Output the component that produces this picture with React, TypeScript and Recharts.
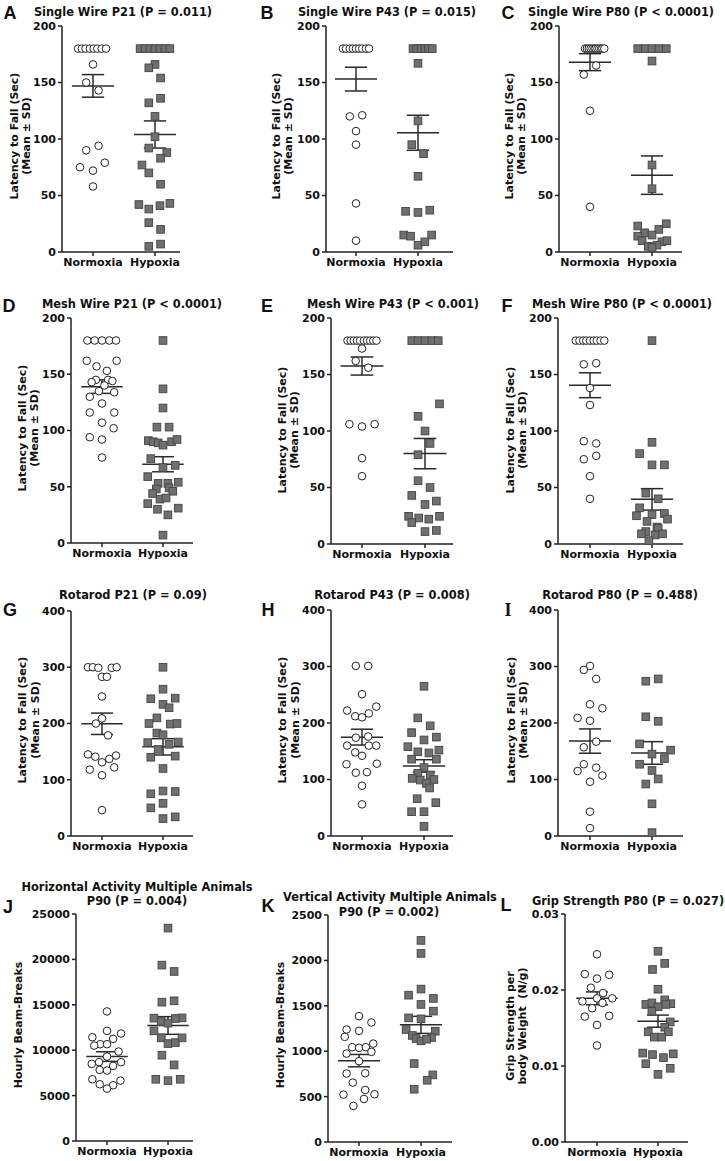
import { ScatterChart, Scatter, XAxis, YAxis, ReferenceLine } from "recharts"

const groups = ["Normoxia", "Hypoxia"]

const ticks200 = [0, 50, 100, 150, 200]
const ticks400 = [0, 100, 200, 300, 400]
const ticksHoriz = [0, 5000, 10000, 15000, 20000, 25000]
const ticksVert = [0, 500, 1000, 1500, 2000, 2500]
const ticksGrip = [0, 0.01, 0.02, 0.03]

// A - single wire P21
const swP21Norm = [180, 180, 180, 180, 180, 180, 180, 180, 166, 150, 143, 94, 90, 79, 75, 72, 58]
const swP21NormJit = [-0.24, -0.18, -0.12, -0.05, 0.01, 0.07, 0.14, 0.21, 0, -0.11, 0.09, 0.09, -0.11, 0.19, -0.21, 0, 0]
const swP21Hyp = [180, 180, 180, 180, 180, 180, 180, 166, 163, 154, 132, 136, 120, 102, 92, 88, 83, 77, 70, 60, 42, 38, 41, 43, 26, 20, 5, 7]
const swP21HypJit = [-0.24, -0.16, -0.08, 0, 0.08, 0.16, 0.24, 0, -0.1, 0.09, -0.1, 0.09, 0, 0, -0.1, 0.19, 0.09, -0.21, -0.1, 0.09, -0.26, -0.1, 0.08, 0.24, -0.1, 0.09, -0.1, 0.09]
const swP21Mean = [147, 104]
const swP21Err = [10, 12]

// B - single wire P43
const swP43Norm = [180, 180, 180, 180, 180, 180, 180, 180, 180, 120, 121, 107, 95, 43, 10]
const swP43NormJit = [-0.21, -0.16, -0.1, -0.05, 0, 0.05, 0.1, 0.16, 0.21, -0.1, 0.1, 0, 0, 0, 0]
const swP43Hyp = [180, 180, 180, 180, 180, 180, 167, 116, 95, 87, 67, 36, 35, 37, 15, 14, 15, 6, 9]
const swP43HypJit = [-0.08, -0.02, 0.05, 0.11, 0.17, 0.23, 0, 0, -0.1, 0.09, 0, -0.2, 0, 0.19, -0.23, -0.12, 0.22, 0, 0.11]
const swP43Mean = [153, 105.5]
const swP43Err = [10.5, 15.5]

// C - single wire P80
const swP80Norm = [180, 180, 180, 180, 180, 180, 180, 180, 180, 180, 180, 180, 165, 157, 125, 40]
const swP80NormJit = [-0.08, -0.05, -0.02, 0.01, 0.04, 0.07, 0.09, 0.12, 0.15, 0.18, 0.2, 0.23, 0.1, -0.1, 0, 0]
const swP80Hyp = [180, 180, 180, 180, 180, 169, 77, 56, 23, 25, 17, 20, 14, 15, 10, 9, 10, 5, 6, 4]
const swP80HypJit = [-0.23, -0.11, 0, 0.11, 0.23, 0, 0, 0, -0.23, 0.23, -0.12, 0.11, -0.23, 0, -0.16, 0.16, 0.24, -0.06, 0.08, 0]
const swP80Mean = [168, 68]
const swP80Err = [7.5, 17]

// D - mesh wire P21
const mwP21Norm = [180, 180, 180, 180, 180, 162, 162, 157, 153, 145, 145, 143, 144, 140, 135, 134, 130, 124, 116, 116, 107, 102, 94, 92, 76]
const mwP21NormJit = [-0.24, -0.12, 0, 0.12, 0.23, -0.25, 0.24, -0.09, 0.08, -0.1, 0.1, -0.17, 0.17, 0.04, -0.05, 0.2, -0.2, 0, -0.2, 0.2, 0, 0.19, -0.2, 0, 0]
const mwP21Hyp = [180, 137, 120, 103, 103, 91, 90, 89, 87, 90, 92, 75, 69, 67, 59, 53, 53, 54, 48, 49, 44, 46, 39, 40, 35, 30, 31, 25, 7]
const mwP21HypJit = [0, 0, 0, -0.1, 0.1, -0.24, -0.16, -0.08, 0, 0.14, 0.23, -0.2, 0.2, 0, -0.25, -0.08, 0.08, 0.25, -0.11, 0.1, -0.17, 0.16, -0.05, 0.05, -0.25, -0.09, 0.25, 0.08, 0]
const mwP21Mean = [139, 70]
const mwP21Err = [6, 6.7]

// E - mesh wire P43
const mwP43Norm = [180, 180, 180, 180, 180, 180, 180, 180, 180, 180, 173, 162, 156, 106, 104, 106, 76, 60]
const mwP43NormJit = [-0.23, -0.18, -0.13, -0.08, -0.03, 0.03, 0.08, 0.13, 0.18, 0.23, 0, -0.1, 0.1, -0.2, 0, 0.2, 0, 0]
const mwP43Hyp = [180, 180, 180, 180, 180, 124, 113, 100, 89, 79, 56, 50, 43, 35, 38, 24.5, 23, 22, 24.5, 19, 11, 12]
const mwP43HypJit = [-0.21, -0.11, 0, 0.11, 0.21, 0.23, -0.11, 0, 0.08, -0.11, -0.11, 0.08, -0.21, 0, 0.18, -0.26, -0.1, 0.06, 0.23, -0.21, 0, 0.18]
const mwP43Mean = [157.5, 80]
const mwP43Err = [8, 13.4]

// F - mesh wire P80
const mwP80Norm = [180, 180, 180, 180, 180, 180, 180, 180, 180, 159, 160, 138, 123, 91, 89, 75, 78, 60, 40]
const mwP80NormJit = [-0.23, -0.17, -0.11, -0.06, 0, 0.06, 0.11, 0.17, 0.23, -0.1, 0.1, 0, 0, -0.1, 0.1, -0.1, 0.1, 0, 0]
const mwP80Hyp = [180, 90, 80, 70, 70, 45, 40, 32, 26, 27, 25, 22, 20, 15, 11, 14, 9, 8, 9, 3]
const mwP80HypJit = [0, 0, -0.2, 0, 0.2, -0.1, 0.1, -0.2, 0, 0.2, -0.25, 0.25, -0.08, 0.08, -0.1, 0.1, -0.17, 0.05, 0.17, -0.05]
const mwP80Mean = [140.5, 39.5]
const mwP80Err = [11, 9.5]

// G - rotarod P21
const rrP21Norm = [300, 300, 299, 299, 300, 283, 283, 248, 209, 200, 179, 145, 141, 143, 137, 131, 118, 122, 108, 46]
const rrP21NormJit = [-0.23, -0.15, -0.06, 0.16, 0.24, 0, 0.08, 0, 0, -0.1, 0.1, -0.23, -0.11, 0.23, 0.12, 0, -0.2, 0.2, 0, 0]
const rrP21Hyp = [300, 261, 244, 245, 234, 228, 210, 200, 199, 200, 183, 180, 166, 167, 163, 154, 140, 142, 120, 75, 80, 79, 50, 58, 31, 34]
const rrP21HypJit = [0, 0, -0.2, 0.2, 0, 0.1, -0.1, -0.23, 0.12, 0.23, -0.1, 0, -0.25, 0.25, 0.1, -0.08, -0.2, 0.2, 0, -0.2, 0, 0.2, -0.2, 0, 0, 0.2]
const rrP21Mean = [199.5, 158.5]
const rrP21Err = [19, 14.5]

// H - rotarod P43
const rrP43Norm = [301, 301, 251, 222, 212, 210, 217, 229, 174, 176, 160, 160, 160, 148, 142, 127, 128, 112, 113, 89, 56]
const rrP43NormJit = [-0.1, 0.1, 0, -0.24, -0.11, 0, 0.11, 0.23, -0.1, 0.1, -0.24, 0.11, 0.23, -0.11, 0, -0.25, 0.24, -0.1, 0.08, 0, 0]
const rrP43Hyp = [265, 209, 195, 183, 175, 170, 158, 149, 147, 152, 136, 136, 121, 111, 108, 102, 99, 100, 93, 85, 66, 59, 43, 43, 17]
const rrP43HypJit = [0, -0.1, 0.1, -0.2, 0.2, 0, -0.26, -0.1, 0.08, 0.24, -0.2, 0.2, 0, -0.1, 0.1, -0.19, -0.06, 0.16, 0.04, 0.09, -0.11, 0.19, -0.2, 0, 0]
const rrP43Mean = [175, 124]
const rrP43Err = [14, 11]

// I - rotarod P80
const rrP80Norm = [301, 294, 278, 233, 226, 209, 204, 167, 157, 127, 121, 115, 107, 96, 43, 14]
const rrP80NormJit = [0, -0.1, 0.1, 0, 0.2, -0.2, 0, 0.1, -0.1, -0.1, 0.1, -0.2, 0.2, 0, 0, 0]
const rrP80Hyp = [274, 278, 211, 203, 163, 145, 152, 137, 127, 116, 101, 92, 57, 6]
const rrP80HypJit = [-0.1, 0.1, -0.1, 0.1, -0.2, 0, 0.3, 0.2, -0.2, 0, 0.1, -0.1, 0, 0]
const rrP80Mean = [168, 147]
const rrP80Err = [21.5, 20]

// J - horizontal activity P90
const horizNorm = [14270, 12130, 11430, 11840, 11250, 10660, 10660, 10510, 9850, 9300, 8490, 8680, 8270, 8680, 7830, 7760, 6800, 6650, 6250, 6140, 5770]
const horizNormJit = [0, 0, -0.24, 0.23, 0.1, -0.11, 0, -0.21, 0.19, 0, -0.25, -0.13, 0.1, 0.23, -0.12, 0, -0.24, 0.22, -0.12, 0.1, 0]
const horizHyp = [23450, 19370, 18670, 15290, 15440, 13530, 13560, 13490, 13160, 12980, 12130, 11360, 10730, 10840, 11360, 9450, 8380, 6800, 6650, 6800]
const horizHypJit = [0, -0.1, 0.1, -0.1, 0.1, -0.23, 0.23, 0.12, -0.11, 0, -0.23, -0.11, 0, 0.12, 0.23, -0.1, 0.1, -0.2, 0, 0.2]
const horizMean = [9300, 12720]
const horizErr = [530, 975]

// K - vertical activity P90
const vertNorm = [1386, 1316, 1239, 1224, 1158, 1084, 1044, 1037, 1044, 974, 993, 890, 754, 757, 654, 573, 522, 526, 474, 397]
const vertNormJit = [0, 0.2, -0.2, 0, -0.23, 0.23, -0.11, 0, 0.11, -0.2, 0.2, 0, -0.2, 0.1, -0.1, 0.1, -0.25, 0.25, 0.08, -0.09]
const vertHyp = [2220, 2077, 1684, 1617, 1581, 1515, 1441, 1367, 1356, 1239, 1220, 1173, 1140, 1150, 1114, 1132, 864, 739, 680, 581]
const vertHypJit = [0, 0, 0, -0.2, 0.2, 0, 0.2, -0.2, 0, -0.24, 0.23, -0.14, -0.08, 0.17, 0, 0.09, -0.11, 0.19, 0.1, -0.11]
const vertMean = [896, 1290]
const vertErr = [68, 94]

// L - grip strength P80
const gripNorm = [0.0247, 0.0221, 0.0215, 0.022, 0.0203, 0.0196, 0.0185, 0.0189, 0.0189, 0.0183, 0.0176, 0.0165, 0.0166, 0.0154, 0.0127]
const gripNormJit = [0, -0.2, 0, 0.2, -0.1, 0.1, -0.24, 0, 0.25, 0.09, -0.08, -0.2, 0.2, 0, 0]
const gripHyp = [0.0251, 0.0235, 0.0227, 0.0201, 0.0187, 0.0181, 0.0183, 0.0182, 0.0178, 0.0181, 0.0172, 0.0158, 0.0151, 0.0145, 0.0145, 0.0138, 0.0138, 0.0117, 0.0115, 0.0111, 0.0116, 0.0103, 0.0097, 0.0089]
const gripHypJit = [0, 0.11, -0.09, 0, 0.11, -0.2, -0.1, 0.21, 0, 0.13, -0.1, 0.2, 0.11, -0.16, 0.17, -0.06, 0.06, -0.25, -0.09, 0.09, 0.25, -0.2, 0.2, 0]
const gripMean = [0.0189, 0.0159]
const gripErr = [0.00085, 0.0008]

const latency = ["Latency to Fall (Sec)", "(Mean ± SD)"]
const beams = ["Hourly Beam-Breaks"]
const FONT = "'DejaVu Sans', Verdana, sans-serif"

type Box = { ax: number; top: number; bottom: number; xEnd: number; nx: number; hx: number }

interface PanelDef {
  letter: string
  title: string[]
  titleAt: number[][]
  letterAt: number[]
  yLabel: string[]
  labelX: number[]
  labelY: number
  ticks: number[]
  norm: number[]
  normJit: number[]
  hyp: number[]
  hypJit: number[]
  means: number[]
  errs: number[]
  box: Box
}

const panels: PanelDef[] = [
  { letter: "A", title: ["Single Wire P21 (P = 0.011)"], titleAt: [[123, 13]], letterAt: [10, 13], yLabel: latency, labelX: [13.5, 25.5], labelY: 136, ticks: ticks200, norm: swP21Norm, normJit: swP21NormJit, hyp: swP21Hyp, hypJit: swP21HypJit, means: swP21Mean, errs: swP21Err, box: { ax: 62, top: 26, bottom: 252, xEnd: 180, nx: 93, hx: 155 } },
  { letter: "B", title: ["Single Wire P43 (P = 0.015)"], titleAt: [[387, 13]], letterAt: [267, 13], yLabel: latency, labelX: [276, 288], labelY: 136, ticks: ticks200, norm: swP43Norm, normJit: swP43NormJit, hyp: swP43Hyp, hypJit: swP43HypJit, means: swP43Mean, errs: swP43Err, box: { ax: 326, top: 26, bottom: 252, xEnd: 453, nx: 356, hx: 418 } },
  { letter: "C", title: ["Single Wire P80 (P < 0.0001)"], titleAt: [[621, 13]], letterAt: [508, 13], yLabel: latency, labelX: [509, 521], labelY: 136, ticks: ticks200, norm: swP80Norm, normJit: swP80NormJit, hyp: swP80Hyp, hypJit: swP80HypJit, means: swP80Mean, errs: swP80Err, box: { ax: 559, top: 26, bottom: 252, xEnd: 682, nx: 590, hx: 652 } },
  { letter: "D", title: ["Mesh Wire P21 (P < 0.0001)"], titleAt: [[132, 305]], letterAt: [9, 306], yLabel: latency, labelX: [22, 34], labelY: 428, ticks: ticks200, norm: mwP21Norm, normJit: mwP21NormJit, hyp: mwP21Hyp, hypJit: mwP21HypJit, means: mwP21Mean, errs: mwP21Err, box: { ax: 71, top: 318, bottom: 543, xEnd: 193, nx: 102, hx: 163 } },
  { letter: "E", title: ["Mesh Wire P43 (P < 0.001)"], titleAt: [[393, 305]], letterAt: [267, 306], yLabel: latency, labelX: [282, 294], labelY: 430, ticks: ticks200, norm: mwP43Norm, normJit: mwP43NormJit, hyp: mwP43Hyp, hypJit: mwP43HypJit, means: mwP43Mean, errs: mwP43Err, box: { ax: 331, top: 318, bottom: 544, xEnd: 453, nx: 362, hx: 425 } },
  { letter: "F", title: ["Mesh Wire P80 (P < 0.0001)"], titleAt: [[622, 305]], letterAt: [507, 306], yLabel: latency, labelX: [510, 522], labelY: 430, ticks: ticks200, norm: mwP80Norm, normJit: mwP80NormJit, hyp: mwP80Hyp, hypJit: mwP80HypJit, means: mwP80Mean, errs: mwP80Err, box: { ax: 558, top: 318, bottom: 544, xEnd: 683, nx: 590, hx: 652 } },
  { letter: "G", title: ["Rotarod P21 (P = 0.09)"], titleAt: [[133, 596]], letterAt: [10, 610], yLabel: latency, labelX: [22, 35], labelY: 720, ticks: ticks400, norm: rrP21Norm, normJit: rrP21NormJit, hyp: rrP21Hyp, hypJit: rrP21HypJit, means: rrP21Mean, errs: rrP21Err, box: { ax: 71, top: 611, bottom: 836, xEnd: 193, nx: 102, hx: 163 } },
  { letter: "H", title: ["Rotarod P43 (P = 0.008)"], titleAt: [[392, 596]], letterAt: [268, 610], yLabel: latency, labelX: [282, 295], labelY: 720, ticks: ticks400, norm: rrP43Norm, normJit: rrP43NormJit, hyp: rrP43Hyp, hypJit: rrP43HypJit, means: rrP43Mean, errs: rrP43Err, box: { ax: 331, top: 610, bottom: 836, xEnd: 453, nx: 362, hx: 424 } },
  { letter: "I", title: ["Rotarod P80 (P = 0.488)"], titleAt: [[620, 596]], letterAt: [508, 610], yLabel: latency, labelX: [511, 523], labelY: 720, ticks: ticks400, norm: rrP80Norm, normJit: rrP80NormJit, hyp: rrP80Hyp, hypJit: rrP80HypJit, means: rrP80Mean, errs: rrP80Err, box: { ax: 558, top: 610, bottom: 836, xEnd: 683, nx: 590, hx: 652 } },
  { letter: "J", title: ["Horizontal Activity Multiple Animals", "P90 (P = 0.004)"], titleAt: [[137, 888], [137, 902]], letterAt: [8, 907], yLabel: beams, labelX: [18], labelY: 1025, ticks: ticksHoriz, norm: horizNorm, normJit: horizNormJit, hyp: horizHyp, hypJit: horizHypJit, means: horizMean, errs: horizErr, box: { ax: 76, top: 914, bottom: 1141, xEnd: 193, nx: 107, hx: 168 } },
  { letter: "K", title: ["Vertical Activity Multiple Animals", "P90 (P = 0.002)"], titleAt: [[390, 898], [389, 913]], letterAt: [268, 906], yLabel: beams, labelX: [280], labelY: 1025, ticks: ticksVert, norm: vertNorm, normJit: vertNormJit, hyp: vertHyp, hypJit: vertHypJit, means: vertMean, errs: vertErr, box: { ax: 328, top: 915, bottom: 1142, xEnd: 452, nx: 359, hx: 421 } },
  { letter: "L", title: ["Grip Strength P80 (P = 0.027)"], titleAt: [[628, 902]], letterAt: [506, 905], yLabel: ["Grip Strength per", "body Weight  (N/g)"], labelX: [510, 522], labelY: 1026, ticks: ticksGrip, norm: gripNorm, normJit: gripNormJit, hyp: gripHyp, hypJit: gripHypJit, means: gripMean, errs: gripErr, box: { ax: 565, top: 914, bottom: 1142, xEnd: 688, nx: 597, hx: 658 } },
]

const tickStyle = { fill: "#111", fontSize: 11, fontWeight: 700, fontFamily: FONT }

function OpenCircle(p: any) {
  return <circle cx={p.cx} cy={p.cy} r={3.8} fill="#fff" stroke="#222" strokeWidth={1} />
}

function GraySquare(p: any) {
  return <rect x={p.cx - 3.8} y={p.cy - 3.8} width={7.6} height={7.6} fill="#707070" stroke="#4a4a4a" strokeWidth={1} />
}

function Panel({ d }: { d: PanelDef }) {
  const { ax, top, bottom, xEnd, nx, hx } = d.box
  const unit = hx - nx
  const domain = [1 - (nx - ax) / unit, 2 + (xEnd - hx) / unit]
  const yMax = d.ticks[d.ticks.length - 1]
  const normData = d.norm.map((y, i) => ({ x: 1 + d.normJit[i], y }))
  const hypData = d.hyp.map((y, i) => ({ x: 2 + d.hypJit[i], y }))
  const fmt = yMax < 1 ? (v: number) => v.toFixed(2) : (v: number) => String(v)
  const line = { stroke: "#2a2a2a", strokeWidth: 1.5, ifOverflow: "visible" as const }

  return (
    <>
      <div style={{ position: "absolute", left: ax - 60, top: top - 10 }}>
        <ScatterChart width={xEnd - ax + 68} height={bottom - top + 40} margin={{ top: 10, right: 8, bottom: 0, left: 0 }}>
          <XAxis
            type="number"
            dataKey="x"
            domain={domain}
            ticks={[1, 2]}
            interval={0}
            allowDataOverflow
            height={30}
            tickSize={4}
            tickFormatter={(v: number) => groups[v - 1]}
            tick={tickStyle}
            axisLine={{ stroke: "#222", strokeWidth: 1.5 }}
            tickLine={{ stroke: "#222", strokeWidth: 1.5 }}
          />
          <YAxis
            type="number"
            dataKey="y"
            domain={[0, yMax]}
            ticks={d.ticks}
            interval={0}
            width={60}
            tickSize={4}
            tickFormatter={fmt}
            tick={tickStyle}
            axisLine={{ stroke: "#222", strokeWidth: 1.5 }}
            tickLine={{ stroke: "#222", strokeWidth: 1.5 }}
          />
          <Scatter data={normData} shape={OpenCircle} isAnimationActive={false} />
          <Scatter data={hypData} shape={GraySquare} isAnimationActive={false} />
          {d.means.map((m, g) => {
            const c = g + 1
            const e = d.errs[g]
            return [
              <ReferenceLine key={`m${g}`} segment={[{ x: c - 0.34, y: m }, { x: c + 0.34, y: m }]} {...line} />,
              <ReferenceLine key={`v${g}`} segment={[{ x: c, y: m - e }, { x: c, y: m + e }]} {...line} />,
              <ReferenceLine key={`t${g}`} segment={[{ x: c - 0.18, y: m + e }, { x: c + 0.18, y: m + e }]} {...line} />,
              <ReferenceLine key={`b${g}`} segment={[{ x: c - 0.18, y: m - e }, { x: c + 0.18, y: m - e }]} {...line} />,
            ]
          })}
        </ScatterChart>
      </div>
      <div
        style={{
          position: "absolute",
          left: d.letterAt[0],
          top: d.letterAt[1],
          transform: "translate(-50%, -50%)",
          fontFamily: d.letter === "I" ? "'Liberation Serif', serif" : "'Liberation Sans', Arial, sans-serif",
          fontWeight: 700,
          fontSize: 18,
          color: "#111",
          lineHeight: 1,
        }}
      >
        {d.letter}
      </div>
      {d.title.map((t, i) => (
        <div
          key={`t${i}`}
          style={{
            position: "absolute",
            left: d.titleAt[i][0],
            top: d.titleAt[i][1],
            transform: "translate(-50%, -50%)",
            fontFamily: FONT,
            fontWeight: 700,
            fontSize: 11.4,
            color: "#111",
            whiteSpace: "nowrap",
            lineHeight: 1,
          }}
        >
          {t}
        </div>
      ))}
      {d.yLabel.map((t, i) => (
        <div
          key={`y${i}`}
          style={{
            position: "absolute",
            left: d.labelX[i],
            top: d.labelY,
            transform: "translate(-50%, -50%) rotate(-90deg)",
            fontFamily: FONT,
            fontWeight: 700,
            fontSize: 11,
            color: "#111",
            whiteSpace: "pre",
            lineHeight: 1,
          }}
        >
          {t}
        </div>
      ))}
    </>
  )
}

export default function App() {
  return (
    <div style={{ position: "absolute", left: 0, top: 0, width: 725, height: 1161, background: "#fff", overflow: "hidden" }}>
      {panels.map(p => (
        <Panel key={p.letter} d={p} />
      ))}
    </div>
  )
}
